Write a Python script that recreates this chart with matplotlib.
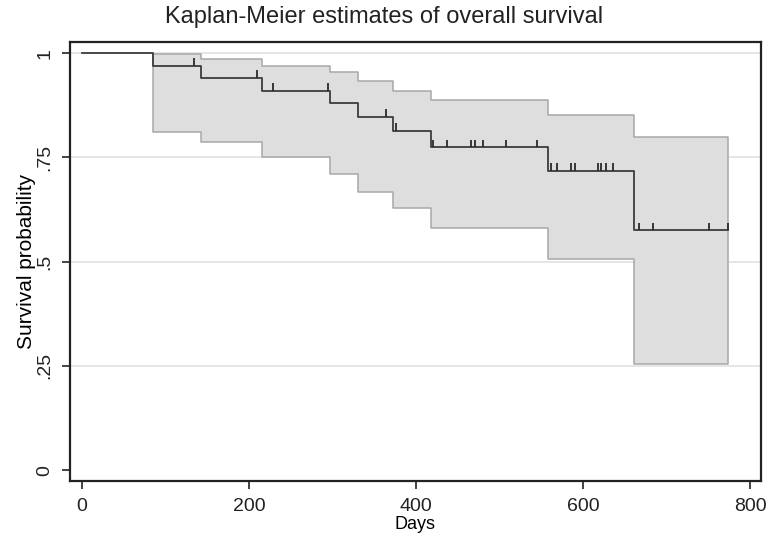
import numpy as np
import matplotlib.pyplot as plt

# Данные
event_days = [85, 143, 216, 297, 331, 372, 418, 558, 661]
surv = [0.970, 0.941, 0.910, 0.880, 0.848, 0.814, 0.774, 0.718, 0.576]
ci_upper = [0.998, 0.986, 0.970, 0.954, 0.934, 0.910, 0.887, 0.852, 0.800]
ci_lower = [0.812, 0.788, 0.751, 0.710, 0.667, 0.628, 0.580, 0.506, 0.254]
censor_days = [134, 210, 229, 294, 364, 376, 420, 437, 466, 470, 480, 508, 545,
               561, 569, 586, 590, 618, 621, 628, 636, 667, 684, 751, 773]
last_day = 773

y_ticks = [0, 0.25, 0.5, 0.75, 1]
y_tick_labels = ["0", ".25", ".5", ".75", "1"]
x_ticks = [0, 200, 400, 600, 800]

plt.rcParams["font.family"] = ["Liberation Sans", "DejaVu Sans"]

fig = plt.figure(figsize=(7.68, 5.37), dpi=100)
ax = fig.add_axes([0.0911, 0.1043, 0.8998, 0.8175])

# сетка
for y in y_ticks[1:]:
    ax.axhline(y, color="#e2e2e2", linewidth=1.2, zorder=0)

# доверительный интервал
band_x = event_days + [last_day]
band_lo = ci_lower + [ci_lower[-1]]
band_hi = ci_upper + [ci_upper[-1]]
ax.fill_between(band_x, band_lo, band_hi, step="post",
                facecolor="#dedede", edgecolor="#a8a8a8", linewidth=1.1, zorder=1)

# кривая выживаемости
curve_x = [0] + event_days + [last_day]
curve_y = [1.0] + surv + [surv[-1]]
ax.step(curve_x, curve_y, where="post", color="#3c3c3c", linewidth=1.3, zorder=3)

# цензурированные наблюдения
ev = np.array(event_days)
sv = np.array([1.0] + surv)
c_days = np.array(censor_days)
c_surv = sv[np.searchsorted(ev, c_days, side="right")]
ax.vlines(c_days, c_surv, c_surv + 0.018, color="#2a2a2a", linewidth=1.3, zorder=4)

ax.set_xlim(-14.4, 813)
ax.set_ylim(-0.026, 1.027)
ax.set_xticks(x_ticks)
ax.set_yticks(y_ticks)
ax.set_yticklabels(y_tick_labels, rotation=90, va="center")
ax.tick_params(axis="both", direction="out", length=6, width=1.2,
               colors="#222222", labelsize=14, pad=6)
ax.tick_params(axis="x", pad=6)

for sp in ax.spines.values():
    sp.set_linewidth(1.6)
    sp.set_color("#222222")

ax.set_xlabel("Days", fontsize=13, labelpad=1)
ax.set_ylabel("Survival probability", fontsize=15, labelpad=0)
fig.text(0.5, 0.968, "Kaplan-Meier estimates of overall survival",
         ha="center", va="center", fontsize=17, color="#222222")

fig.savefig("out.png", dpi=100)
